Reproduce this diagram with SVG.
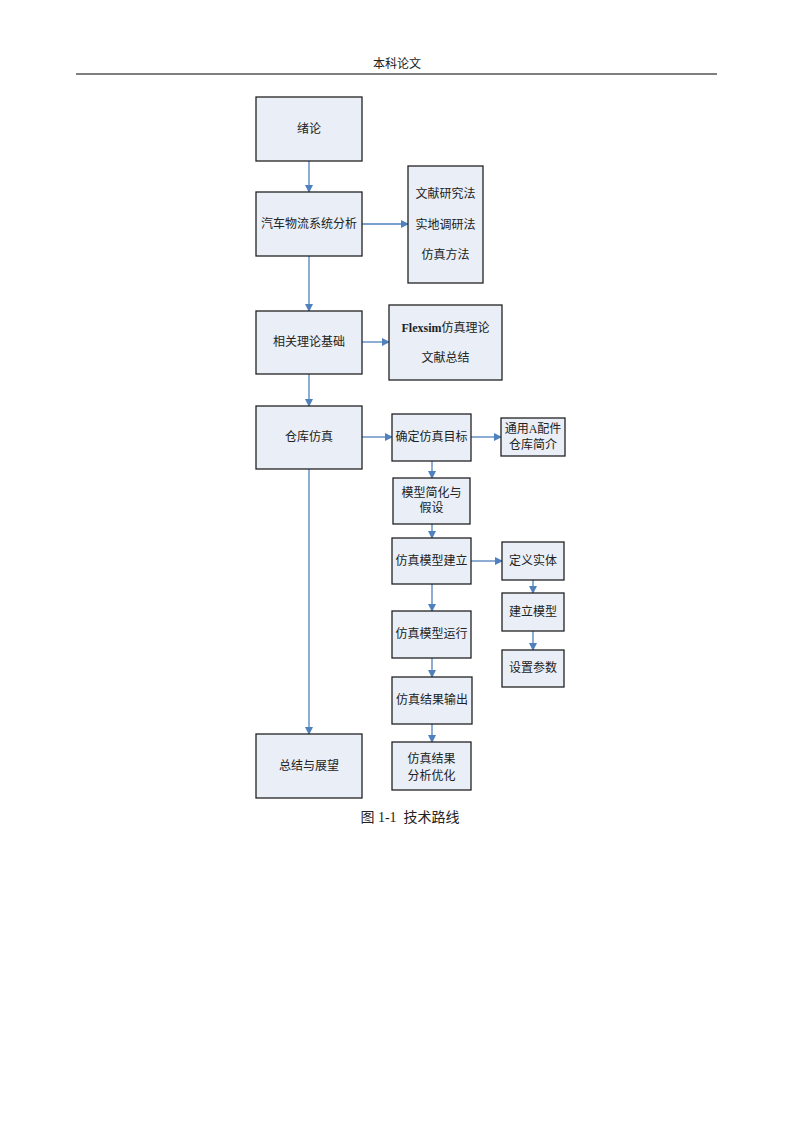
<svg xmlns="http://www.w3.org/2000/svg" width="793" height="1122" viewBox="0 0 793 1122">
<style>
.bx{fill:#e9eef7;stroke:#222;stroke-width:1.3}
.t{font-family:"Liberation Serif","Noto Sans CJK SC",serif;font-size:12px;fill:#222;text-anchor:middle;dominant-baseline:central}
.c{stroke:#4f81bd;stroke-width:1.3;fill:none;marker-end:url(#ah)}
</style>
<defs>
<marker id="ah" markerWidth="8" markerHeight="8" refX="7" refY="4" orient="auto" markerUnits="userSpaceOnUse">
<path d="M0,0 L8,4 L0,8 Z" fill="#4f81bd"/>
</marker>
</defs>
<rect width="793" height="1122" fill="#fff"/>
<g id="header">
<text class="t" x="397" y="64">本科论文</text>
<line x1="76" y1="74" x2="717" y2="74" stroke="#000" stroke-width="1"/>
</g>
<g id="connectors">
<line class="c" x1="309" y1="161" x2="309" y2="192"/>
<line class="c" x1="362" y1="224" x2="408" y2="224"/>
<line class="c" x1="309" y1="256" x2="309" y2="311"/>
<line class="c" x1="362" y1="342" x2="389" y2="342"/>
<line class="c" x1="309" y1="374" x2="309" y2="406"/>
<line class="c" x1="309" y1="469" x2="309" y2="734"/>
<line class="c" x1="362" y1="437" x2="392" y2="437"/>
<line class="c" x1="471" y1="437" x2="501" y2="437"/>
<line class="c" x1="432" y1="461" x2="432" y2="478"/>
<line class="c" x1="432" y1="524" x2="432" y2="538"/>
<line class="c" x1="471" y1="561" x2="502" y2="561"/>
<line class="c" x1="432" y1="584" x2="432" y2="611"/>
<line class="c" x1="432" y1="658" x2="432" y2="677"/>
<line class="c" x1="432" y1="724" x2="432" y2="742"/>
<line class="c" x1="533" y1="580" x2="533" y2="593"/>
<line class="c" x1="533" y1="631" x2="533" y2="650"/>
</g>
<g id="n1"><rect class="bx" x="256" y="97" width="106" height="64"/><text class="t" x="309" y="129">绪论</text></g>
<g id="n2"><rect class="bx" x="256" y="192" width="106" height="64"/><text class="t" x="309" y="224">汽车物流系统分析</text></g>
<g id="n3"><rect class="bx" x="408" y="166" width="75" height="117"/><text class="t" x="445.5" y="194">文献研究法</text><text class="t" x="445.5" y="225">实地调研法</text><text class="t" x="445.5" y="255">仿真方法</text></g>
<g id="n4"><rect class="bx" x="256" y="311" width="106" height="63"/><text class="t" x="309" y="342">相关理论基础</text></g>
<g id="n5"><rect class="bx" x="389" y="305" width="113" height="75"/><text class="t" x="445.5" y="328"><tspan font-weight="600">Flexsim</tspan>仿真理论</text><text class="t" x="445.5" y="358">文献总结</text></g>
<g id="n6"><rect class="bx" x="256" y="406" width="106" height="63"/><text class="t" x="309" y="437">仓库仿真</text></g>
<g id="n7"><rect class="bx" x="392" y="414" width="79" height="47"/><text class="t" x="431.5" y="437">确定仿真目标</text></g>
<g id="n8"><rect class="bx" x="501" y="418" width="64" height="38"/><text class="t" x="533" y="429">通用A配件</text><text class="t" x="533" y="445">仓库简介</text></g>
<g id="n9"><rect class="bx" x="393" y="478" width="77" height="46"/><text class="t" x="431.5" y="493">模型简化与</text><text class="t" x="431.5" y="508">假设</text></g>
<g id="n10"><rect class="bx" x="392" y="538" width="79" height="46"/><text class="t" x="431.5" y="561">仿真模型建立</text></g>
<g id="n11"><rect class="bx" x="502" y="542" width="62" height="38"/><text class="t" x="533" y="561">定义实体</text></g>
<g id="n12"><rect class="bx" x="502" y="593" width="62" height="38"/><text class="t" x="533" y="612">建立模型</text></g>
<g id="n13"><rect class="bx" x="502" y="650" width="62" height="37"/><text class="t" x="533" y="668">设置参数</text></g>
<g id="n14"><rect class="bx" x="392" y="611" width="79" height="47"/><text class="t" x="431.5" y="634">仿真模型运行</text></g>
<g id="n15"><rect class="bx" x="392" y="677" width="80" height="47"/><text class="t" x="432" y="700">仿真结果输出</text></g>
<g id="n16"><rect class="bx" x="392" y="742" width="79" height="48"/><text class="t" x="431.5" y="759">仿真结果</text><text class="t" x="431.5" y="776">分析优化</text></g>
<g id="n17"><rect class="bx" x="256" y="734" width="106" height="64"/><text class="t" x="309" y="766">总结与展望</text></g>
<g id="caption"><text class="t" x="410" y="817" style="font-size:14px;white-space:pre" xml:space="preserve">图 1-1  技术路线</text></g>
</svg>
